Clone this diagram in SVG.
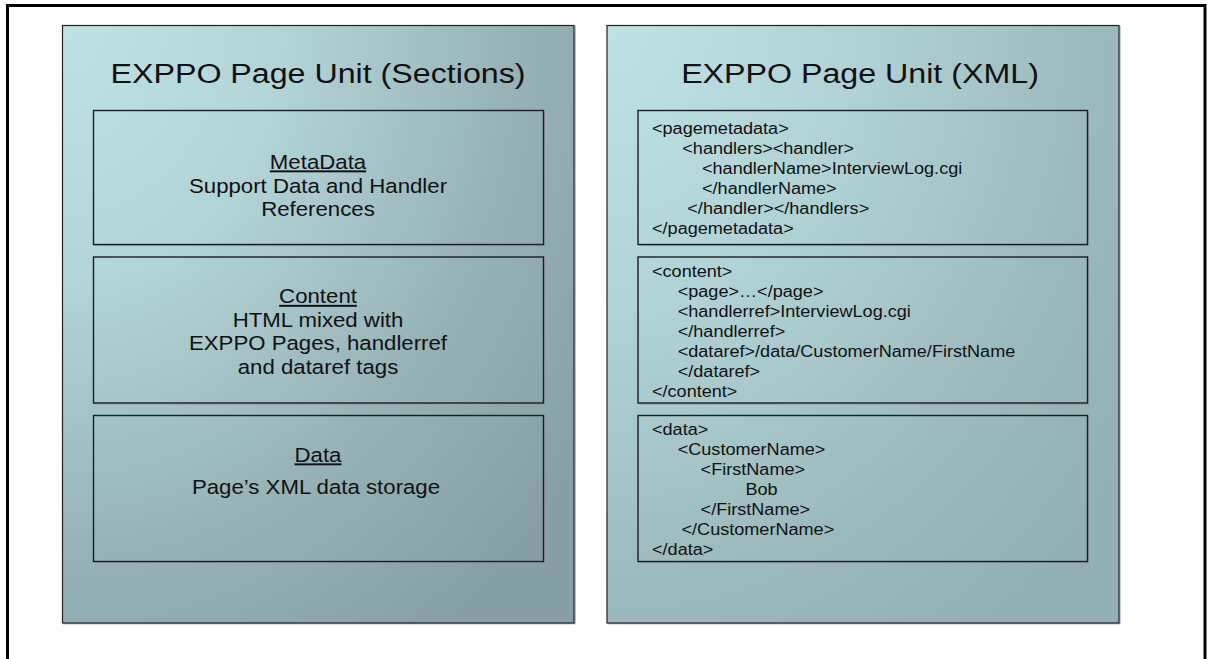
<svg xmlns="http://www.w3.org/2000/svg" width="1207" height="659" viewBox="0 0 1207 659">
  <style>
    text { font-family: "Liberation Sans", Arial, sans-serif; fill: #111; }
    .title { font-size: 28px; text-anchor: middle; }
    .body { font-size: 19.5px; text-anchor: middle; }
    .u { text-decoration: underline; }
    .xml { font-size: 15.6px; }
    .panel { stroke: #1e2424; stroke-width: 1.2; }
    .box { fill: none; stroke: #1a1f1f; stroke-width: 1.4; }
    .shadow { fill: none; stroke: #9a9a9a; stroke-width: 1; }
  </style>
  <defs>
    <radialGradient id="gradL" cx="0" cy="0" r="1.25" fx="0" fy="0">
      <stop offset="0" stop-color="#bfe2e5"/>
      <stop offset="0.35" stop-color="#b2d4d7"/>
      <stop offset="0.7" stop-color="#97b3b6"/>
      <stop offset="1" stop-color="#86a0a3"/>
    </radialGradient>
    <radialGradient id="gradR" cx="0" cy="0" r="1.25" fx="0" fy="0">
      <stop offset="0" stop-color="#bfe2e5"/>
      <stop offset="0.4" stop-color="#b0d2d5"/>
      <stop offset="0.75" stop-color="#9cbabc"/>
      <stop offset="1" stop-color="#93b0b2"/>
    </radialGradient>
  </defs>

  <rect width="1207" height="659" fill="#ffffff"/>
  <path id="frame" d="M7.5,659 V5.5 H1205 V659" fill="none" stroke="#000" stroke-width="3"/>

  <g id="panel-sections">
    <path class="shadow" d="M63,623.8 H575.2 V26"/>
    <rect class="panel" x="62.5" y="25.5" width="511.5" height="597.5" fill="url(#gradL)"/>
    <text class="title" transform="translate(318,83) scale(1.15,1)">EXPPO Page Unit (Sections)</text>

    <g id="sec-metadata">
      <path class="shadow" d="M94,245.6 H544.6 V111"/>
      <rect class="box" x="93.5" y="110.5" width="450" height="134"/>
      <text class="body u" transform="translate(318,168.5) scale(1.14,1)">MetaData</text>
      <text class="body" transform="translate(318,192.5) scale(1.14,1)">Support Data and Handler</text>
      <text class="body" transform="translate(318,216) scale(1.14,1)">References</text>
    </g>

    <g id="sec-content">
      <path class="shadow" d="M94,404.1 H544.6 V258"/>
      <rect class="box" x="93.5" y="257" width="450" height="146"/>
      <text class="body u" transform="translate(318,303) scale(1.14,1)">Content</text>
      <text class="body" transform="translate(318,326.5) scale(1.14,1)">HTML mixed with</text>
      <text class="body" transform="translate(318,350) scale(1.14,1)">EXPPO Pages, handlerref</text>
      <text class="body" transform="translate(318,373.5) scale(1.14,1)">and dataref tags</text>
    </g>

    <g id="sec-data">
      <path class="shadow" d="M94,562.6 H544.6 V416"/>
      <rect class="box" x="93.5" y="415.5" width="450" height="146"/>
      <text class="body u" transform="translate(318,461.5) scale(1.14,1)">Data</text>
      <text class="body" transform="translate(316,493.5) scale(1.14,1)">Page’s XML data storage</text>
    </g>
  </g>

  <g id="panel-xml">
    <path class="shadow" d="M608,623.8 H1120 V26"/>
    <rect class="panel" x="607" y="25.5" width="512" height="597.5" fill="url(#gradR)"/>
    <text class="title" transform="translate(860,83) scale(1.15,1)">EXPPO Page Unit (XML)</text>

    <g id="xml-metadata">
      <path class="shadow" d="M639,245.6 H1088.6 V111"/>
      <rect class="box" x="638" y="110.5" width="449.5" height="134"/>
      <text class="xml" transform="translate(652,133.5) scale(1.16,1)">&lt;pagemetadata&gt;</text>
      <text class="xml" transform="translate(682.3,153.5) scale(1.16,1)">&lt;handlers&gt;&lt;handler&gt;</text>
      <text class="xml" transform="translate(702,173.5) scale(1.16,1)">&lt;handlerName&gt;InterviewLog.cgi</text>
      <text class="xml" transform="translate(702,193.5) scale(1.16,1)">&lt;/handlerName&gt;</text>
      <text class="xml" transform="translate(687.3,213.5) scale(1.16,1)">&lt;/handler&gt;&lt;/handlers&gt;</text>
      <text class="xml" transform="translate(652,233.5) scale(1.16,1)">&lt;/pagemetadata&gt;</text>
    </g>

    <g id="xml-content">
      <path class="shadow" d="M639,404.1 H1088.6 V258"/>
      <rect class="box" x="638" y="257" width="449.5" height="146"/>
      <text class="xml" transform="translate(652,276.7) scale(1.16,1)">&lt;content&gt;</text>
      <text class="xml" transform="translate(677.7,296.7) scale(1.16,1)">&lt;page&gt;…&lt;/page&gt;</text>
      <text class="xml" transform="translate(677.7,316.7) scale(1.16,1)">&lt;handlerref&gt;InterviewLog.cgi</text>
      <text class="xml" transform="translate(677.7,336.7) scale(1.16,1)">&lt;/handlerref&gt;</text>
      <text class="xml" transform="translate(677.7,356.7) scale(1.16,1)">&lt;dataref&gt;/data/CustomerName/FirstName</text>
      <text class="xml" transform="translate(677.7,376.7) scale(1.16,1)">&lt;/dataref&gt;</text>
      <text class="xml" transform="translate(652,396.7) scale(1.16,1)">&lt;/content&gt;</text>
    </g>

    <g id="xml-data">
      <path class="shadow" d="M639,562.6 H1088.6 V416"/>
      <rect class="box" x="638" y="415.5" width="449.5" height="146"/>
      <text class="xml" transform="translate(652,435) scale(1.16,1)">&lt;data&gt;</text>
      <text class="xml" transform="translate(677.7,455) scale(1.16,1)">&lt;CustomerName&gt;</text>
      <text class="xml" transform="translate(700.6,475) scale(1.16,1)">&lt;FirstName&gt;</text>
      <text class="xml" transform="translate(745.4,495) scale(1.16,1)">Bob</text>
      <text class="xml" transform="translate(700.6,515) scale(1.16,1)">&lt;/FirstName&gt;</text>
      <text class="xml" transform="translate(681.5,535) scale(1.16,1)">&lt;/CustomerName&gt;</text>
      <text class="xml" transform="translate(652,555) scale(1.16,1)">&lt;/data&gt;</text>
    </g>
  </g>

  <g id="connectors"/>
</svg>
